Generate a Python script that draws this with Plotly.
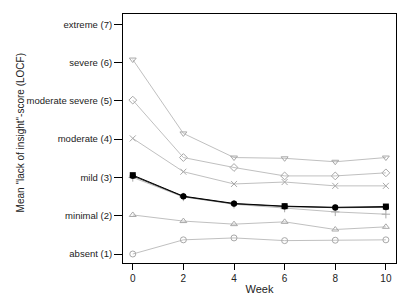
import plotly.graph_objects as go

weeks = [0, 2, 4, 6, 8, 10]
y_tickvals = [1, 2, 3, 4, 5, 6, 7]
y_ticklabels = ["absent (1)", "minimal (2)", "mild (3)", "moderate (4)",
                "moderate severe (5)", "severe (6)", "extreme (7)"]

s_tri_down = [6.08, 4.15, 3.52, 3.50, 3.41, 3.52]
s_diamond = [5.02, 3.52, 3.26, 3.04, 3.04, 3.12]
s_cross_x = [4.02, 3.15, 2.83, 2.88, 2.78, 2.78]
s_plus = [3.00, 2.49, 2.30, 2.20, 2.10, 2.04]
s_black_sq = [3.06, 2.51, 2.32, 2.25, 2.22, 2.24]
s_black_ci = [3.04, 2.50, 2.31, 2.24, 2.21, 2.22]
s_tri_up = [2.02, 1.86, 1.78, 1.84, 1.64, 1.71]
s_circle = [1.00, 1.37, 1.42, 1.35, 1.36, 1.37]

grey_line = "#c0c0c0"
grey_mark = "#a8a8a8"

fig = go.Figure()

def grey(y, sym):
    fig.add_trace(go.Scatter(
        x=weeks, y=y, mode="lines+markers",
        line=dict(color=grey_line, width=1),
        marker=dict(symbol=sym, size=6, color=grey_mark,
                    line=dict(color=grey_mark, width=1)),
        showlegend=False))

grey(s_tri_down, "triangle-down-open")
grey(s_diamond, "diamond-open")
grey(s_cross_x, "x-thin-open")
grey(s_tri_up, "triangle-up-open")
grey(s_circle, "circle-open")
grey(s_plus, "cross-thin-open")

fig.add_trace(go.Scatter(
    x=weeks, y=s_black_ci, mode="lines+markers",
    line=dict(color="#333333", width=1),
    marker=dict(symbol="circle", size=6, color="#111111"),
    showlegend=False))
fig.add_trace(go.Scatter(
    x=weeks, y=s_black_sq, mode="lines+markers",
    line=dict(color="#000000", width=1),
    marker=dict(symbol=["square", "circle", "circle", "square", "circle", "square"],
                size=6, color="#000000"),
    showlegend=False))

fig.update_layout(
    width=404, height=293,
    margin=dict(l=114.5, r=15.5, t=5.5, b=38, autoexpand=False),
    paper_bgcolor="white", plot_bgcolor="white",
    font=dict(family="Liberation Sans, Arial, sans-serif", color="#222222", size=10),
    xaxis=dict(range=[-0.386, 10.4], tickvals=weeks, ticktext=[str(w) for w in weeks],
               showgrid=False, zeroline=False, showline=True, mirror=True,
               linecolor="black", linewidth=1, ticks="outside", ticklen=6,
               tickcolor="black", tickfont=dict(size=10),
               title=dict(text="Week", font=dict(size=11), standoff=2)),
    yaxis=dict(range=[0.765, 7.27], tickvals=y_tickvals, ticktext=y_ticklabels,
               showgrid=False, zeroline=False, showline=True, mirror=True,
               linecolor="black", linewidth=1, ticks="outside", ticklen=8,
               tickcolor="black", tickfont=dict(size=9.5)),
    annotations=[dict(text="Mean \"lack of insight\"-score (LOCF)", textangle=-90,
                      xref="paper", yref="paper", x=-0.375, y=0.523,
                      xanchor="center", yanchor="middle", showarrow=False,
                      font=dict(size=10, color="#222222"))],
)

fig.write_html("out.html")
